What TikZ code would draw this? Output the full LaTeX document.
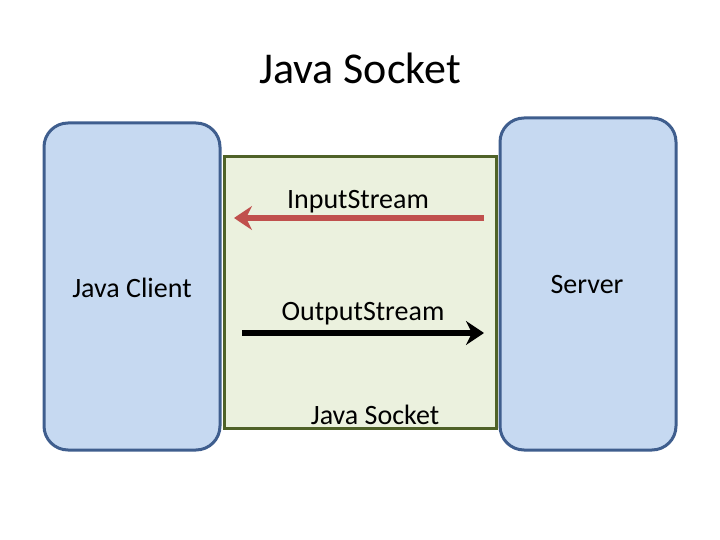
\documentclass[tikz,border=0pt]{standalone}
\usepackage{fontspec}
\setmainfont{Carlito}
\usetikzlibrary{arrows.meta}
\definecolor{boxblue}{HTML}{C6D9F1}
\definecolor{boxline}{HTML}{3F5E8E}
\definecolor{sockfill}{HTML}{EBF1DE}
\definecolor{sockline}{HTML}{4F6228}
\definecolor{inred}{HTML}{C0504D}
\tikzset{
  endbox/.style={draw=boxline, fill=boxblue, line width=3pt, rounded corners=24pt, inner sep=0pt},
  sockbox/.style={draw=sockline, fill=sockfill, line width=3pt, inner sep=0pt},
  lbl/.style={font=\fontsize{28}{32}\selectfont, inner sep=0pt},
  streamarrow/.style={line width=6pt, -{Stealth[length=18pt,width=24pt,inset=6pt]}},
}
\begin{document}
\begin{tikzpicture}[x=1pt,y=-1pt]
\useasboundingbox (0,0) rectangle (720,540);
\node[font=\fontsize{44}{50}\selectfont, inner sep=0pt] (title) at (360,68) {Java Socket};
\node[endbox, minimum width=176pt, minimum height=327pt] (client) at (132,286.5) {};
\node[endbox, minimum width=176pt, minimum height=332pt] (server) at (588,284) {};
\node[sockbox, minimum width=272pt, minimum height=271pt] (socket) at (360,292.5) {};
\node[lbl] (clientlbl) at (132,288) {Java Client};
\node[lbl] (serverlbl) at (587,285) {Server};
\node[lbl] (inlbl) at (358,202) {InputStream};
\node[lbl] (outlbl) at (363,314) {OutputStream};
\node[lbl] (socklbl) at (375,415) {Java Socket};
\coordinate (inA) at (484,218);
\coordinate (inB) at (234,218);
\coordinate (outA) at (242,333);
\coordinate (outB) at (484,333);
\draw[streamarrow, draw=inred, fill=inred] (inA) -- (inB);
\draw[streamarrow, draw=black] (outA) -- (outB);
\end{tikzpicture}
\end{document}
